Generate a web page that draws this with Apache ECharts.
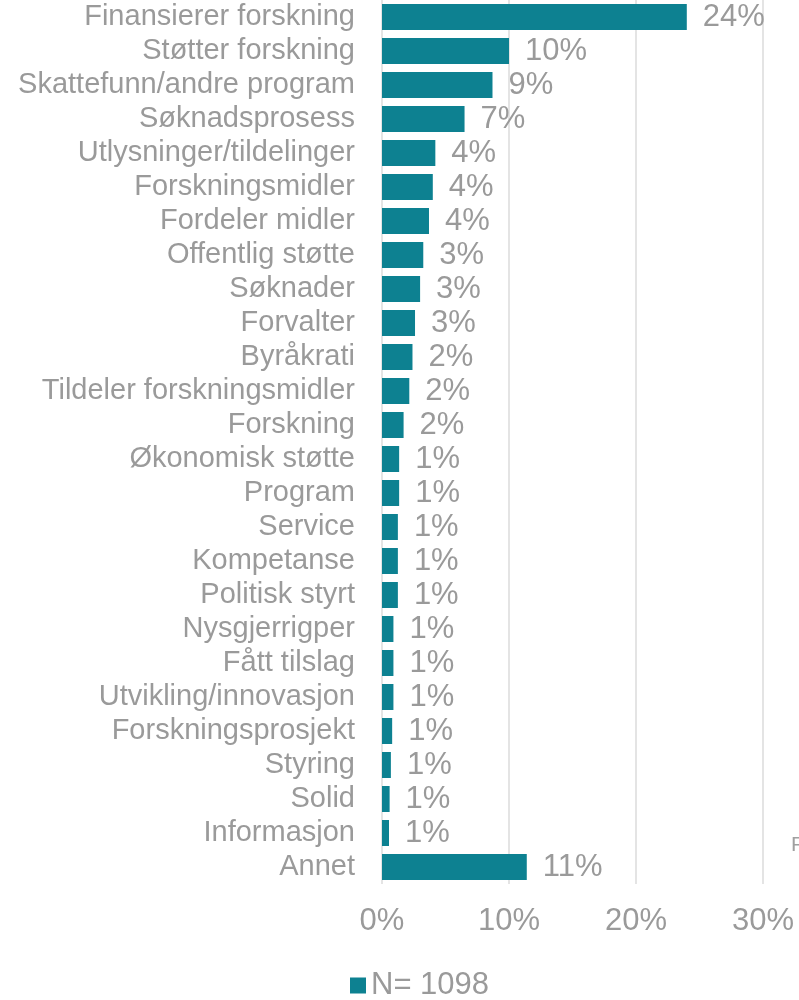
<!DOCTYPE html>
<html>
<head>
<meta charset="utf-8">
<title>Forskningsrådet</title>
<script src="https://cdn.jsdelivr.net/npm/echarts@6/dist/echarts.min.js"></script>
<style type="text/css">
	html, body { margin: 0; padding: 0; background: #fff; }
	#container { width: 799px; height: 1000px; }
</style>
</head>
<body>
<div id="container"></div>
<script type="text/javascript">
	// kategorier, ovenfra og ned
	var categories = ['Finansierer forskning', 'Støtter forskning', 'Skattefunn/andre program', 'Søknadsprosess',
		'Utlysninger/tildelinger', 'Forskningsmidler', 'Fordeler midler', 'Offentlig støtte', 'Søknader',
		'Forvalter', 'Byråkrati', 'Tildeler forskningsmidler', 'Forskning', 'Økonomisk støtte', 'Program',
		'Service', 'Kompetanse', 'Politisk styrt', 'Nysgjerrigper', 'Fått tilslag', 'Utvikling/innovasjon',
		'Forskningsprosjekt', 'Styring', 'Solid', 'Informasjon', 'Annet'];
	// andel i prosent (avlest)
	var values = [24.0, 10.0, 8.7, 6.5, 4.2, 4.0, 3.7, 3.25, 3.0, 2.6, 2.4, 2.15, 1.7, 1.35, 1.35,
		1.25, 1.25, 1.25, 0.9, 0.9, 0.9, 0.8, 0.7, 0.6, 0.55, 11.4];
	var seriesName = 'N= 1098';
	var xTicks = [0, 10, 20, 30];

	var grey = '#9a9a9a';
	var teal = '#0d8191';
	var font = '"Liberation Sans", Arial, sans-serif';

	var myChart = echarts.init(document.getElementById('container'));
	var option = {
		animation: false,
		textStyle: { fontFamily: font },
		grid: { left: 382, right: 36, top: -1, bottom: 116, containLabel: false },
		legend: {
			data: [seriesName],
			left: 345, top: 965,
			icon: 'rect', itemWidth: 16, itemHeight: 16, itemGap: 10,
			textStyle: { color: grey, fontSize: 31, fontFamily: font }
		},
		xAxis: {
			type: 'value',
			min: xTicks[0], max: xTicks[xTicks.length - 1], interval: 10,
			axisLine: { show: false },
			axisTick: { show: false },
			splitLine: { show: true, lineStyle: { color: '#e4e4e4', width: 2 } },
			axisLabel: {
				color: grey, fontSize: 31, margin: 22,
				formatter: function (v) { return v + '%'; }
			}
		},
		yAxis: {
			type: 'category',
			data: categories,
			inverse: true,
			axisLine: { show: false },
			axisTick: { show: false },
			axisLabel: { color: grey, fontSize: 29, margin: 27, interval: 0 }
		},
		series: [{
			name: seriesName,
			type: 'bar',
			data: values,
			barWidth: 26,
			itemStyle: { color: teal },
			label: {
				show: true, position: 'right', distance: 16,
				color: grey, fontSize: 31,
				formatter: function (p) { return Math.round(p.value) + '%'; }
			}
		}],
		graphic: [{
			type: 'text', left: 791, top: 835,
			style: { text: 'F', fill: '#a0a0a0', fontSize: 21, fontFamily: font }
		}]
	};
	myChart.setOption(option);
</script>
</body>
</html>
